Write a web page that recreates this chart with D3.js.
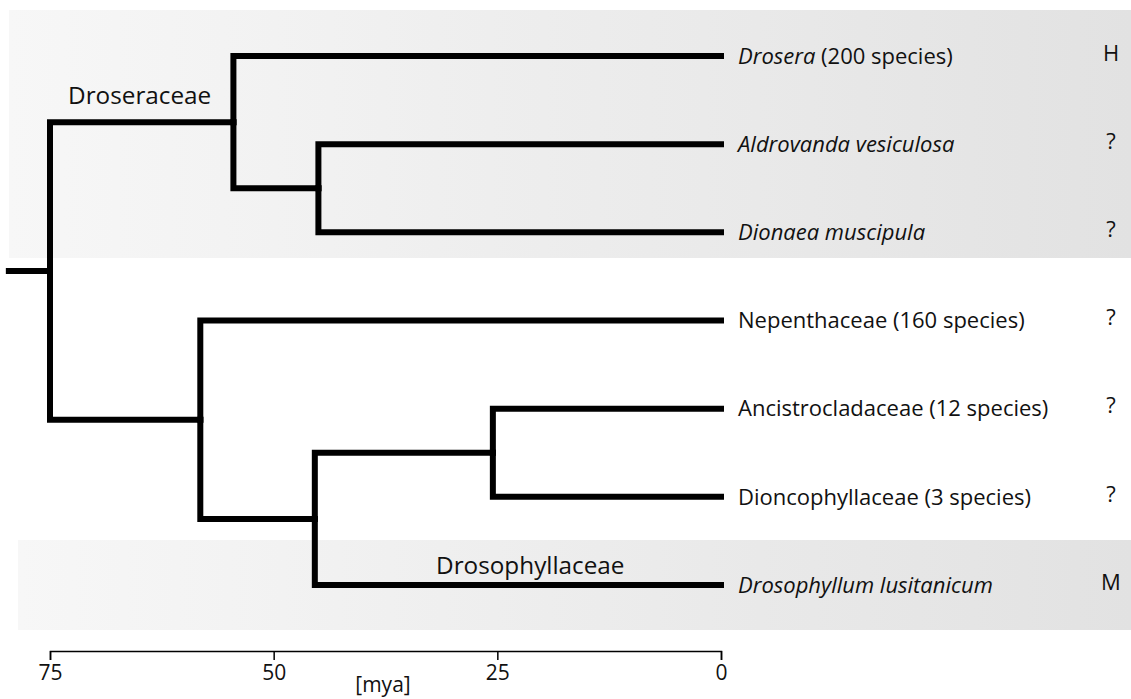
<!DOCTYPE html>
<meta charset="utf-8">
<style>
body { margin: 0; background: #fff; }
text { font-family: "Open Sans", sans-serif; fill: #111; }
</style>
<body>
<script src="https://cdn.jsdelivr.net/npm/d3@7"></script>
<script>

// tree structure: id, parent and age (mya) of each node
var nodeIds   = ["stem", "root", "droseraceae", "aldroDion", "nepRoot", "drosoNode", "ancNode",
                 "drosera", "aldrovanda", "dionaea", "nepenthaceae", "ancistro", "dioncophyll", "drosophyllum"];
var parentIds = ["", "stem", "root", "droseraceae", "root", "nepRoot", "drosoNode",
                 "droseraceae", "aldroDion", "aldroDion", "nepRoot", "ancNode", "ancNode", "drosoNode"];
var ages      = [79.6, 75, 54.5, 45, 58.2, 45.4, 25.5,
                 0, 0, 0, 0, 0, 0, 0];

// tips, top to bottom
var tipIds    = ["drosera", "aldrovanda", "dionaea", "nepenthaceae", "ancistro", "dioncophyll", "drosophyllum"];
var tipItalic = ["Drosera", "Aldrovanda vesiculosa", "Dionaea muscipula", "", "", "", "Drosophyllum lusitanicum"];
var tipPlain  = [" (200 species)", "", "", "Nepenthaceae (160 species)", "Ancistrocladaceae (12 species)",
                 "Dioncophyllaceae (3 species)", ""];
var tipMarks  = ["H", "?", "?", "?", "?", "?", "M"];

var axisTicks = [75, 50, 25, 0];

var width = 1131, height = 699;

var svg = d3.select("body").append("svg")
    .attr("width", width)
    .attr("height", height);

// scales
var x = d3.scaleLinear().domain([75, 0]).range([50, 721]);
var y = d3.scalePoint().domain(tipIds).range([56, 585]);

// background bands
var defs = svg.append("defs");
var grad = defs.append("linearGradient").attr("id", "band");
grad.append("stop").attr("offset", "0%").attr("stop-color", "#f7f7f7");
grad.append("stop").attr("offset", "100%").attr("stop-color", "#e2e2e2");

svg.append("rect")
    .attr("x", 9).attr("y", 10)
    .attr("width", width - 9).attr("height", 248)
    .attr("fill", "url(#band)");
svg.append("rect")
    .attr("x", 18).attr("y", 540)
    .attr("width", width - 18).attr("height", 90)
    .attr("fill", "url(#band)");

// build the tree
var table = nodeIds.map(function(id, i) {
  return {id: id, parent: parentIds[i] || null, age: ages[i]};
});
var root = d3.stratify()
    .id(function(d) { return d.id; })
    .parentId(function(d) { return d.parent; })(table);

// vertical positions: tips from the point scale, inner nodes at the mean of children
root.eachAfter(function(n) {
  if (!n.children) n.py = y(n.id);
  else n.py = d3.mean(n.children, function(c) { return c.py; });
  n.px = x(n.data.age);
});

var g = svg.append("g")
    .attr("fill", "none")
    .attr("stroke", "#000")
    .attr("stroke-width", 6)
    .attr("stroke-linecap", "square");

// elbow links
g.selectAll("path.link")
    .data(root.links())
  .enter().append("path")
    .attr("class", "link")
    .attr("d", function(d) {
      return "M" + d.source.px + "," + d.source.py +
             "V" + d.target.py + "H" + d.target.px;
    });

// tip labels
var tips = svg.selectAll("text.tip")
    .data(tipIds)
  .enter().append("text")
    .attr("class", "tip")
    .attr("x", 738)
    .attr("y", function(d) { return y(d); })
    .attr("dy", "0.35em")
    .style("font-size", "22px");
tips.append("tspan")
    .style("font-style", "italic")
    .text(function(d, i) { return tipItalic[i]; });
tips.append("tspan")
    .text(function(d, i) { return tipPlain[i]; });

svg.selectAll("text.mark")
    .data(tipIds)
  .enter().append("text")
    .attr("class", "mark")
    .attr("x", 1111)
    .attr("y", function(d) { return y(d) - 3; })
    .attr("dy", "0.35em")
    .attr("text-anchor", "middle")
    .style("font-size", "22px")
    .text(function(d, i) { return tipMarks[i]; });

// clade labels
svg.append("text")
    .attr("x", 68).attr("y", 104)
    .style("font-size", "24.3px")
    .text("Droseraceae");
svg.append("text")
    .attr("x", 436).attr("y", 574)
    .style("font-size", "24.3px")
    .text("Drosophyllaceae");

// time axis
var axis = svg.append("g")
    .attr("transform", "translate(0,651)")
    .call(d3.axisBottom(x).tickValues(axisTicks).tickSize(9).tickPadding(5));
axis.select(".domain").attr("stroke-width", 1.5);
axis.selectAll(".tick line").attr("stroke-width", 1.5);
axis.selectAll(".tick text")
    .style("font-family", "'Open Sans', sans-serif")
    .style("font-size", "21px")
    .attr("fill", "#111");

svg.append("text")
    .attr("x", 383).attr("y", 692)
    .attr("text-anchor", "middle")
    .style("font-size", "21px")
    .text("[mya]");

</script>
</body>
